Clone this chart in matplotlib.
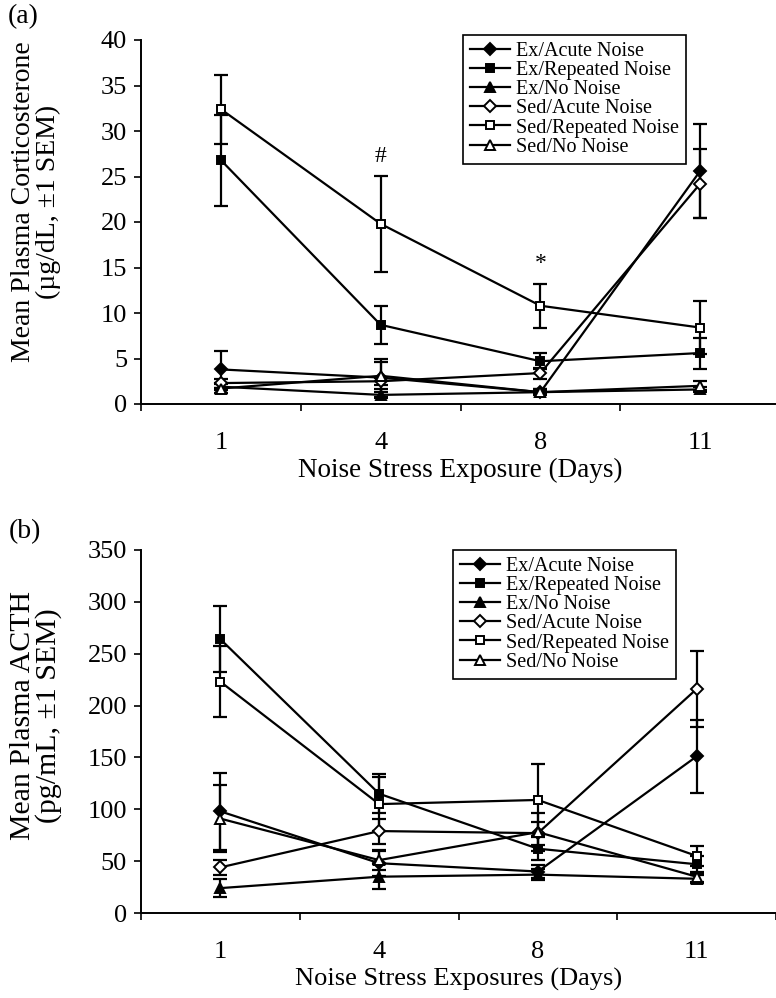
import matplotlib
matplotlib.use("Agg")
import matplotlib.pyplot as plt
import numpy as np

plt.rcParams["font.family"] = ["Liberation Serif", "DejaVu Serif"]
plt.rcParams["mathtext.default"] = "regular"

days = ["1", "4", "8", "11"]
group_labels = [
    "Ex/Acute Noise",
    "Ex/Repeated Noise",
    "Ex/No Noise",
    "Sed/Acute Noise",
    "Sed/Repeated Noise",
    "Sed/No Noise",
]

# (a) corticosterone, ug/dL
cort_ex_acute = [3.8, 2.9, 1.3, 25.6]
cort_ex_repeated = [26.8, 8.7, 4.7, 5.6]
cort_ex_none = [1.9, 1.0, 1.3, 1.6]
cort_sed_acute = [2.3, 2.5, 3.4, 24.2]
cort_sed_repeated = [32.4, 19.8, 10.8, 8.4]
cort_sed_none = [1.7, 3.1, 1.3, 2.0]

cort_ex_acute_sem = [2.0, 2.1, 0.3, 5.2]
cort_ex_repeated_sem = [5.0, 2.1, 0.9, 1.7]
cort_ex_none_sem = [0.4, 0.3, 0.2, 0.3]
cort_sed_acute_sem = [0.5, 0.4, 0.6, 3.8]
cort_sed_repeated_sem = [3.8, 5.3, 2.4, 2.9]
cort_sed_none_sem = [0.5, 1.5, 0.3, 0.5]

# (b) ACTH, pg/mL
acth_ex_acute = [98, 48, 40, 151]
acth_ex_repeated = [264, 115, 62, 47]
acth_ex_none = [24, 35, 37, 33]
acth_sed_acute = [44, 79, 77, 216]
acth_sed_repeated = [223, 105, 109, 55]
acth_sed_none = [91, 51, 78, 35]

acth_ex_acute_sem = [37, 12, 6, 35]
acth_ex_repeated_sem = [32, 19, 11, 8]
acth_ex_none_sem = [9, 12, 5, 4]
acth_sed_acute_sem = [7, 12, 11, 37]
acth_sed_repeated_sem = [34, 26, 35, 10]
acth_sed_none_sem = [32, 10, 18, 5]

cort_means = [cort_ex_acute, cort_ex_repeated, cort_ex_none,
              cort_sed_acute, cort_sed_repeated, cort_sed_none]
cort_sems = [cort_ex_acute_sem, cort_ex_repeated_sem, cort_ex_none_sem,
             cort_sed_acute_sem, cort_sed_repeated_sem, cort_sed_none_sem]
acth_means = [acth_ex_acute, acth_ex_repeated, acth_ex_none,
              acth_sed_acute, acth_sed_repeated, acth_sed_none]
acth_sems = [acth_ex_acute_sem, acth_ex_repeated_sem, acth_ex_none_sem,
             acth_sed_acute_sem, acth_sed_repeated_sem, acth_sed_none_sem]

styles = [("D", "black", 6), ("s", "black", 6), ("^", "black", 7),
          ("D", "white", 6), ("s", "white", 6), ("^", "white", 7)]


def draw_panel(ax, means, sems, ymax, ystep):
    x = np.arange(1, len(days) + 1)
    for label, m, s, (marker, face, size) in zip(group_labels, means, sems, styles):
        ax.errorbar(x, m, yerr=s, fmt="none", ecolor="black",
                    elinewidth=1.6, capsize=5, capthick=1.6, zorder=2)
        ax.plot(x, m, color="black", lw=1.6, marker=marker, mfc=face,
                mec="black", mew=1.4, ms=size, label=label, zorder=3)

    ax.set_xlim(0.5, len(days) + 0.5)
    ax.set_ylim(0, ymax)
    ax.set_yticks(np.arange(0, ymax + 1, ystep))
    ax.set_xticks(x)
    ax.set_xticklabels(days)
    ax.set_xticks(np.arange(0.5, len(days) + 1), minor=True)
    ax.tick_params(axis="x", which="major", length=0, pad=20, labelsize=19)
    ax.tick_params(axis="x", which="minor", length=5, width=1.2, direction="out")
    ax.tick_params(axis="y", length=5, width=1.2, direction="out", pad=5, labelsize=19)
    for side in ("top", "right"):
        ax.spines[side].set_visible(False)
    for side in ("left", "bottom"):
        ax.spines[side].set_linewidth(1.4)


def add_legend(ax, left_px, top_px):
    leg = ax.legend(loc="upper left", bbox_to_anchor=(left_px / 776, 1 - top_px / 998),
                    bbox_transform=fig.transFigure, borderaxespad=0, fontsize=14.5,
                    frameon=True, fancybox=False, edgecolor="black", framealpha=1,
                    labelspacing=0.0, handlelength=2.0, handletextpad=0.3,
                    borderpad=0.35)
    leg.get_frame().set_linewidth(1.2)


fig = plt.figure(figsize=(7.76, 9.98), dpi=100)

ax_a = fig.add_axes([141 / 776, 1 - 404 / 998, 639 / 776, 364 / 998])
draw_panel(ax_a, cort_means, cort_sems, 40, 5)
ax_a.text(2, 27.2, "#", ha="center", va="center", fontsize=17)
ax_a.text(3, 15.4, "*", ha="center", va="center", fontsize=17)
ax_a.set_xlabel("Noise Stress Exposure (Days)", fontsize=19.5, labelpad=3)
fig.text(36 / 776, 1 - 202 / 998,
         "Mean Plasma Corticosterone\n(µg/dL, ±1 SEM)",
         rotation=90, ha="center", va="center", fontsize=20,
         multialignment="center", linespacing=0.95)
fig.text(8 / 776, 1 - 17 / 998, "(a)", ha="left", va="center", fontsize=20)
add_legend(ax_a, 463, 35)

ax_b = fig.add_axes([141 / 776, 1 - 913 / 998, 635 / 776, 363 / 998])
draw_panel(ax_b, acth_means, acth_sems, 350, 50)
ax_b.set_xlabel("Noise Stress Exposures (Days)", fontsize=19, labelpad=4)
fig.text(36 / 776, 1 - 716 / 998,
         "Mean Plasma ACTH\n(pg/mL, ±1 SEM)",
         rotation=90, ha="center", va="center", fontsize=21.5,
         multialignment="center", linespacing=0.95)
fig.text(9 / 776, 1 - 532 / 998, "(b)", ha="left", va="center", fontsize=20)
add_legend(ax_b, 453, 550)

fig.savefig("out.png", dpi=100)
